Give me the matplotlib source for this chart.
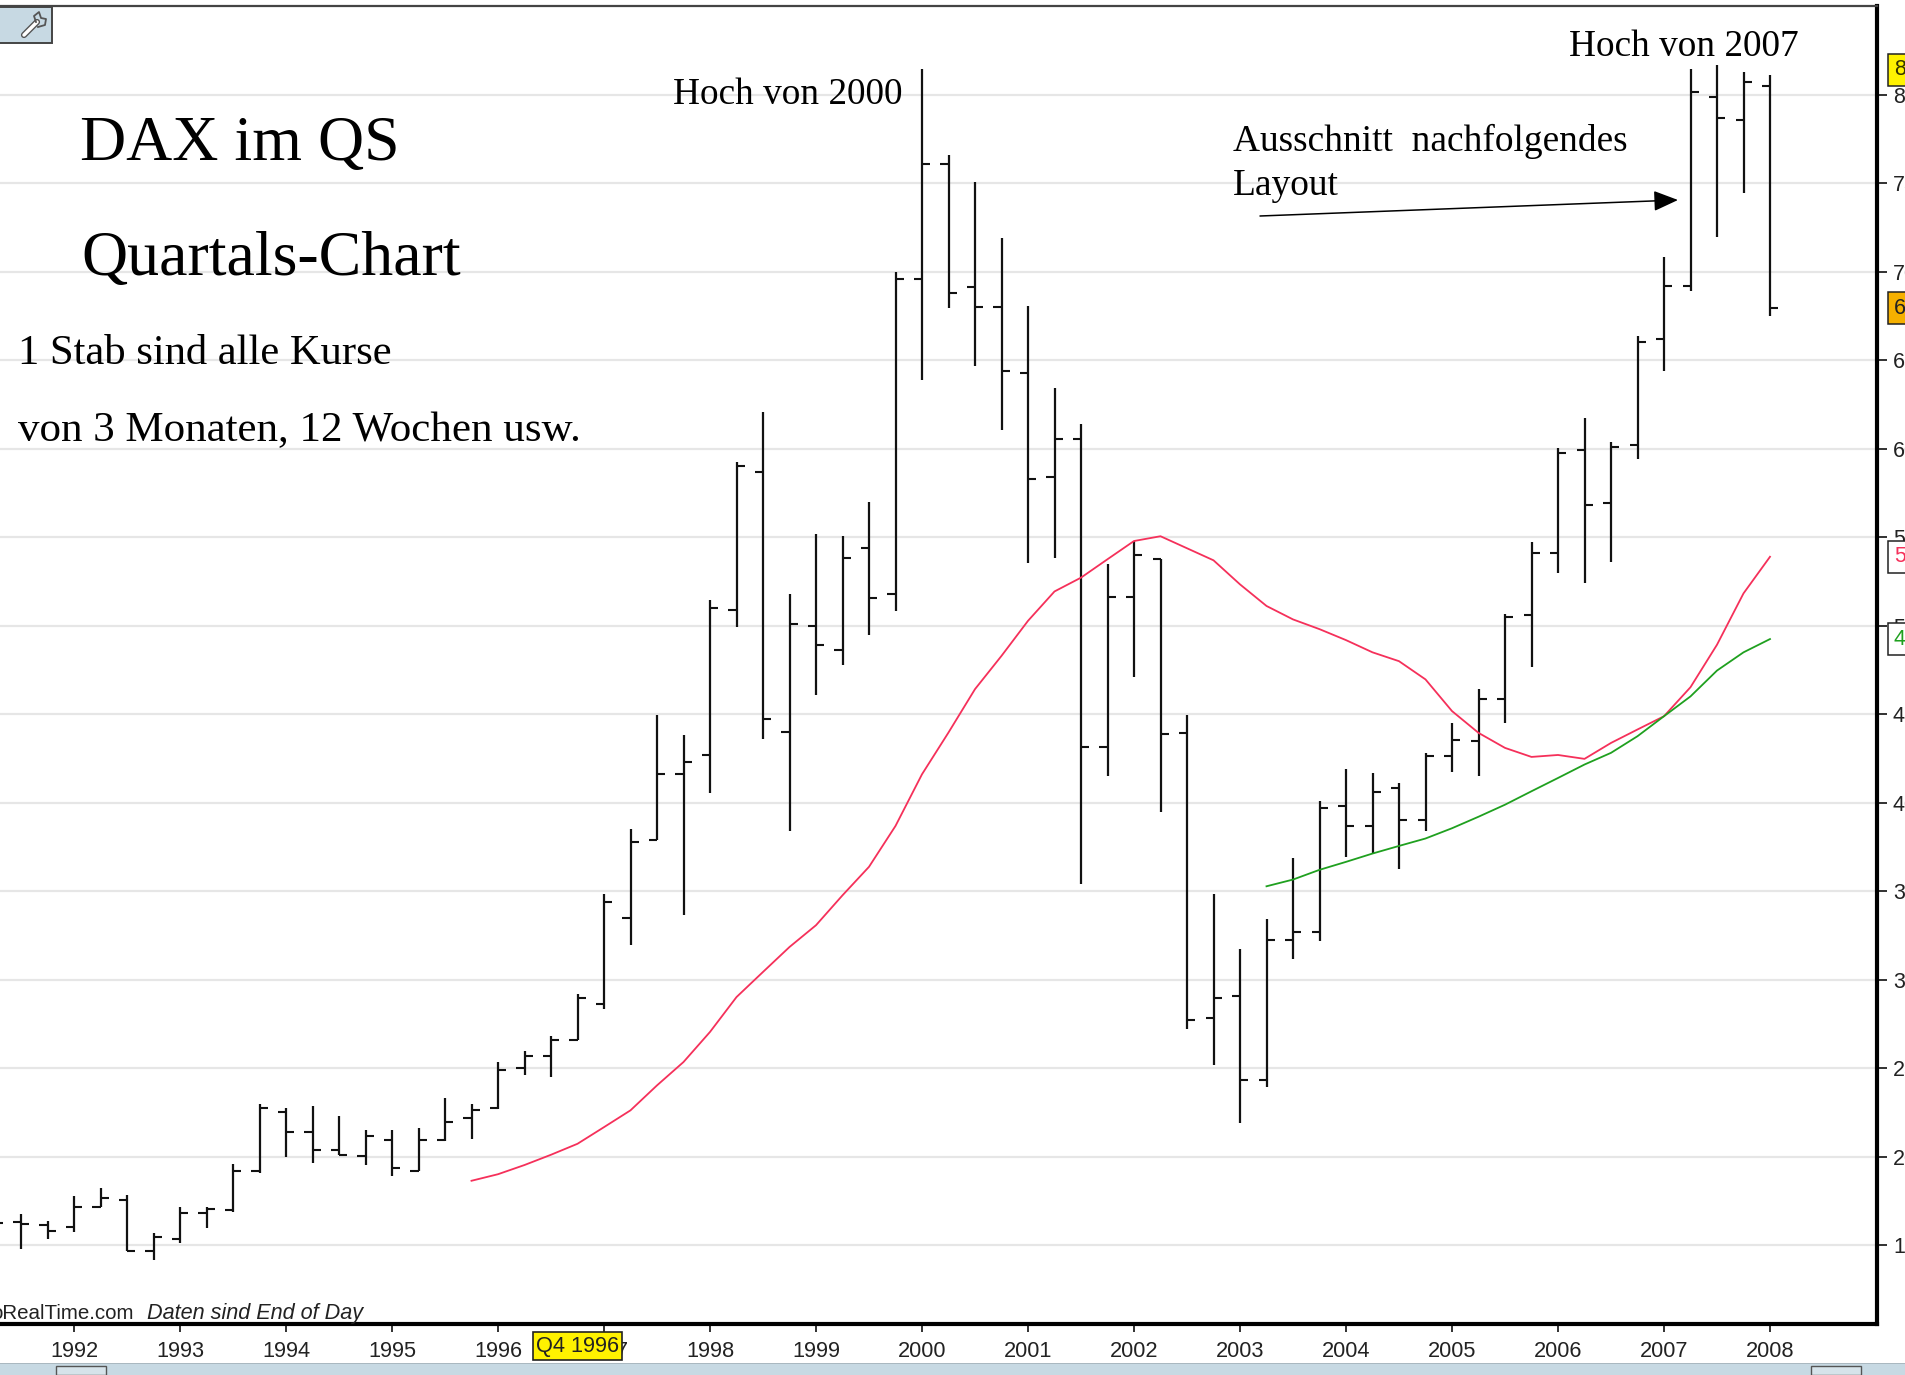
import matplotlib
matplotlib.use("Agg")
import matplotlib.pyplot as plt
from matplotlib.patches import Rectangle
import numpy as np

W, H = 1905, 1375

# quarterly bars, first one is Q2 1991
first_quarter = 1991.25
opens = [1625, 1630, 1613, 1602, 1717, 1753, 1466, 1536, 1683, 1700, 1916, 2254, 2137, 2037, 2001, 2092,
         1920, 2092, 2216, 2273, 2500, 2568, 2658, 2862, 3348, 3787, 4163, 4271, 5086, 5866, 4396, 4995,
         4860, 5436, 5176, 6959, 7606, 6915, 6802, 6426, 5842, 6057, 4315, 5163, 5378, 4391, 2783, 2907,
         2432, 3224, 3269, 3982, 3869, 4083, 3902, 4264, 4349, 4586, 5062, 5412, 5990, 5695, 6023, 6621,
         6917, 7985, 7858, 8050]
highs = [1640, 1674, 1636, 1778, 1821, 1785, 1570, 1717, 1717, 1957, 2298, 2273, 2288, 2231, 2150, 2150,
         2161, 2332, 2298, 2534, 2594, 2681, 2920, 3486, 3848, 4494, 4381, 5146, 5926, 6209, 5178, 5519,
         5508, 5700, 6998, 8144, 7657, 7508, 7191, 6806, 6342, 6140, 5348, 5478, 5378, 4494, 3486, 3171,
         3341, 3689, 4008, 4189, 4166, 4108, 4278, 4447, 4643, 5063, 5473, 6006, 6174, 6039, 6634, 7081,
         8144, 8166, 8131, 8111]
lows = [1590, 1475, 1532, 1576, 1717, 1466, 1415, 1509, 1598, 1689, 1906, 1995, 1961, 2008, 1952, 1891,
        1916, 2090, 2099, 2269, 2462, 2449, 2658, 2836, 3197, 3787, 3367, 4053, 4991, 4358, 3842, 4607,
        4777, 4946, 5082, 6389, 6794, 6468, 6106, 5353, 5384, 3541, 4152, 4707, 3947, 2722, 2519, 2191,
        2394, 3118, 3220, 3695, 3710, 3627, 3842, 4170, 4153, 4447, 4764, 5295, 5239, 5361, 5939, 6439,
        6889, 7197, 7447, 6747]
closes = [1627, 1617, 1579, 1717, 1763, 1466, 1545, 1683, 1706, 1920, 2273, 2137, 2037, 2008, 2114, 1933,
          2092, 2194, 2264, 2491, 2568, 2658, 2896, 3439, 3778, 4163, 4230, 5097, 5900, 4475, 5007, 4893,
          5380, 5154, 6959, 7606, 6879, 6802, 6440, 5826, 6057, 4315, 5163, 5401, 4385, 2770, 2896, 2432,
          3224, 3269, 3970, 3869, 4061, 3902, 4264, 4355, 4586, 5050, 5412, 5978, 5684, 6012, 6601, 6919,
          8015, 7868, 8073, 6793]

# moving averages, one reading per quarter
red_start = 1995.75
red_ma = [1863, 1900, 1952, 2010, 2072, 2166, 2261, 2402, 2534, 2704, 2901, 3043, 3184, 3307, 3476, 3637,
          3868, 4160, 4396, 4641, 4829, 5027, 5193, 5271, 5375, 5478, 5505, 5437, 5369, 5233, 5111, 5035,
          4980, 4918, 4849, 4799, 4696, 4517, 4394, 4309, 4258, 4269, 4247, 4337, 4413, 4488, 4652, 4892,
          5182, 5389]
green_start = 2003.25
green_ma = [3527, 3565, 3620, 3665, 3712, 3755, 3797, 3855, 3920, 3988, 4064, 4139, 4215, 4281, 4375, 4488,
            4600, 4746, 4849, 4924]

price_ticks = [1500, 2000, 2500, 3000, 3500, 4000, 4500, 5000, 5500, 6000, 6500, 7000, 7500, 8000]
year_ticks = list(range(1992, 2009))
high_label = 8141
cursor_quarter = 1996.75
cursor_text = "Q4 1996"
serif = "Liberation Serif"
sans = "Liberation Sans"


def fx(px):
    return px / W


def fy(py):
    return 1 - py / H


fig = plt.figure(figsize=(W / 100, H / 100), dpi=100, facecolor="white")
# axes box in pixels: right edge 1877, top 6, bottom 1324
ax = fig.add_axes([0, fy(1324), fx(1877), (1324 - 6) / H])
px_per_year = 106.0
px_per_point = 0.177
ax.set_xlim(1992 - 74 / px_per_year, 2008 + (1877 - 1770) / px_per_year)
ax.set_ylim(1500 - (1324 - 1245) / px_per_point, 8000 + (94.7 - 6) / px_per_point)

ax.spines["left"].set_visible(False)
ax.spines["top"].set_color("#444444")
ax.spines["top"].set_linewidth(1.6)
ax.spines["right"].set_linewidth(3)
ax.spines["bottom"].set_linewidth(3)

ax.yaxis.tick_right()
ax.set_yticks(price_ticks)
ax.set_yticklabels([str(v) for v in price_ticks], fontname=sans, fontsize=15.5, color="#222222")
ax.tick_params(axis="y", length=7.5, width=1.3, pad=4, color="#222222")
ax.set_xticks(year_ticks)
ax.set_xticklabels([str(v) for v in year_ticks], fontname=sans, fontsize=15.7, color="#222222")
ax.tick_params(axis="x", length=6, width=1.3, pad=6, color="#222222")
ax.grid(axis="y", color="#e6e6e6", linewidth=1.6)
ax.set_axisbelow(True)

# OHLC bars
x = first_quarter + 0.25 * np.arange(len(opens))
tick_w = 8 / px_per_year
ax.vlines(x, lows, highs, color="#111111", linewidth=1.6, zorder=3)
ax.hlines(opens, x - tick_w, x, color="#111111", linewidth=1.5, zorder=3)
ax.hlines(closes, x, x + tick_w, color="#111111", linewidth=1.5, zorder=3)

x_red = red_start + 0.25 * np.arange(len(red_ma))
x_green = green_start + 0.25 * np.arange(len(green_ma))
ax.plot(x_red, red_ma, color="#f5305a", linewidth=1.3, zorder=4)
ax.plot(x_green, green_ma, color="#1fa01f", linewidth=1.3, zorder=4)

# value boxes right of the axis, text runs off the picture like in the screenshot
box_kw = dict(transform=ax.get_yaxis_transform(), clip_on=False, va="center", ha="left",
              fontname=sans, fontsize=15.5, zorder=6)
for val, txt_col, bg in [(high_label, "#333300", "#fff200"),
                         (closes[-1], "#222222", "#f5b000"),
                         (red_ma[-1], "#f5305a", "white"),
                         (green_ma[-1], "#1fa01f", "white")]:
    ax.text(1.009, val, str(val), color=txt_col,
            bbox=dict(boxstyle="square,pad=0.26", facecolor=bg, edgecolor="#222222", linewidth=1.1), **box_kw)

# cursor label on the time axis
ax.add_patch(Rectangle((cursor_quarter - 0.42, -0.0273), 0.84, 0.0212, transform=ax.get_xaxis_transform(),
                       clip_on=False, facecolor="#fff200", edgecolor="#222222", linewidth=1.2, zorder=5))
ax.text(cursor_quarter, -0.0167, cursor_text, transform=ax.get_xaxis_transform(), ha="center", va="center",
        fontname=sans, fontsize=15.7, color="#222222", zorder=6)

# watermark
fig.text(fx(134), fy(1319), "oRealTime.com", ha="right", va="baseline", fontname=sans, fontsize=14.8, color="#222222")
fig.text(fx(147), fy(1319), "Daten sind End of Day", ha="left", va="baseline", fontname=sans, style="italic",
         fontsize=15.6, color="#222222")

# the notes typed over the chart
notes = [(80, 160, "DAX im QS", 46),
         (81, 275, "Quartals-Chart", 46),
         (18, 364, "1 Stab sind alle Kurse", 30.7),
         (18, 441, "von 3 Monaten, 12 Wochen usw.", 31),
         (673, 104, "Hoch von 2000", 26.8),
         (1569, 56, "Hoch von 2007", 26.8),
         (1233, 151, "Ausschnitt  nachfolgendes", 26.9),
         (1233, 195, "Layout", 26.9)]
for nx, ny, txt, size in notes:
    fig.text(fx(nx), fy(ny), txt, ha="left", va="baseline", fontname=serif, fontsize=size, color="black", zorder=7)

ax.annotate("", xy=(fx(1678), fy(200)), xytext=(fx(1260), fy(216)), xycoords="figure fraction",
            textcoords="figure fraction", zorder=7,
            arrowprops=dict(arrowstyle="-|>,head_length=1.0,head_width=0.42", color="black", linewidth=1.1,
                            mutation_scale=15, shrinkA=0, shrinkB=0))

# window chrome: strip at the bottom and the wrench button
fig.add_artist(Rectangle((0, 0), 1, 12 / H, transform=fig.transFigure, facecolor="#c7d9e3", edgecolor="none"))
fig.add_artist(Rectangle((0, fy(1364)), 1, 1.5 / H, transform=fig.transFigure, facecolor="#aab8c0", edgecolor="none"))
for bx, bw in [(56, 50), (1811, 50)]:
    fig.add_artist(Rectangle((fx(bx), 0), bw / W, 9 / H, transform=fig.transFigure, facecolor="#d6e3ea",
                             edgecolor="#555555", linewidth=1))
fig.add_artist(Rectangle((fx(-3), fy(43)), 55 / W, 36 / H, transform=fig.transFigure, facecolor="#c7d9e3",
                         edgecolor="#444444", linewidth=1.4))
wrench_x = [fx(24), fx(37)]
wrench_y = [fy(35), fy(22)]
fig.add_artist(plt.Line2D(wrench_x, wrench_y, color="#555555", linewidth=4.5, solid_capstyle="round"))
fig.add_artist(plt.Line2D(wrench_x, wrench_y, color="white", linewidth=2.5, solid_capstyle="round"))
fig.add_artist(plt.Line2D([fx(36), fx(34), fx(39), fx(41), fx(46), fx(45), fx(38)],
                          [fy(22), fy(16), fy(12), fy(18), fy(19), fy(25), fy(27)],
                          color="#555555", linewidth=1.3))

fig.savefig("out.png", dpi=100)
